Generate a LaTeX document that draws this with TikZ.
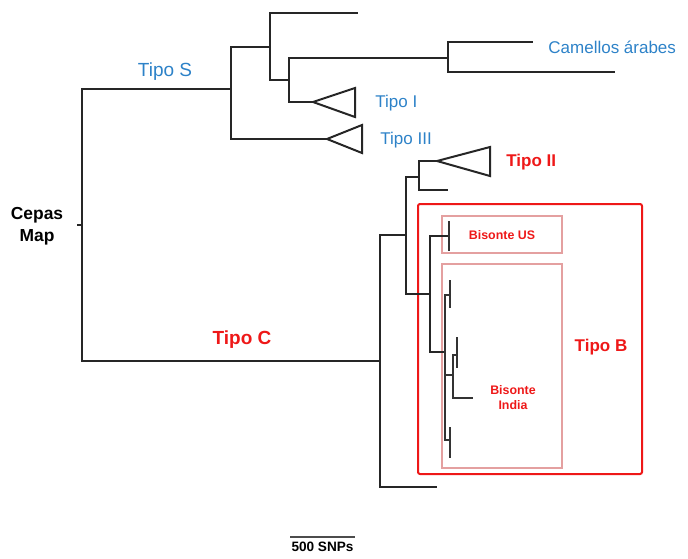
\documentclass[tikz,border=0pt]{standalone}
\usepackage{fontspec}
\setmainfont{Liberation Sans}
\usetikzlibrary{positioning,calc}
\definecolor{tipoblue}{RGB}{45,130,200}
\definecolor{tipored}{RGB}{238,24,24}
\definecolor{boxpink}{RGB}{228,160,160}

\begin{document}
\begin{tikzpicture}[
  x=0.5pt,y=-0.5pt,
  branch/.style={line width=1pt,black!85},
  twig/.style={line width=0.7pt,black!80},
  clade/.style={line width=1pt,black!85,line join=miter},
  bluelbl/.style={font=\fontsize{8.5}{10}\selectfont,text=tipoblue,inner sep=0pt},
  redlbl/.style={font=\bfseries\fontsize{8.5}{10}\selectfont,text=tipored,inner sep=0pt},
  sublbl/.style={font=\bfseries\fontsize{6.2}{7.5}\selectfont,text=tipored,align=center,inner sep=0pt},
  bigbox/.style={draw=tipored,line width=1pt,rounded corners=1pt,inner sep=0pt},
  subbox/.style={draw=boxpink,line width=0.6pt,inner sep=0pt},
]
\useasboundingbox (0,0) rectangle (688,558);

% red boxes behind the tree
\node[bigbox,minimum width=112pt,minimum height=135pt] (boxB) at (530,339) {};
\node[subbox,minimum width=60pt,minimum height=18.5pt] (boxUS) at (502,234.5) {};
\node[subbox,minimum width=60pt,minimum height=102pt] (boxIN) at (502,366) {};

% tree nodes
\coordinate (rtick) at (77,225);
\coordinate (root) at (82,225);
\coordinate (nS) at (231,89);
\coordinate (nA) at (270,47);
\coordinate (lA) at (358,13);
\coordinate (nA2) at (289,80);
\coordinate (nCam) at (448,58);
\coordinate (lCam1) at (533,42);
\coordinate (lCam2) at (615,72);
\coordinate (tI) at (313,102);
\coordinate (tIII) at (327,139);
\coordinate (nC) at (380,361);
\coordinate (n2) at (406,235);
\coordinate (lC) at (437,487);
\coordinate (n3) at (419,177);
\coordinate (tII) at (437,161);
\coordinate (l3) at (448,190);
\coordinate (nB) at (430,294);
\coordinate (nUS) at (449,236);
\coordinate (nIN) at (445,352);
\coordinate (in1) at (450,295);
\coordinate (in2) at (453,375);
\coordinate (in3) at (457,355);
\coordinate (lIn) at (473,398);
\coordinate (in4) at (450,440);

% branches
\draw[branch] (rtick) -- (root);
\draw[branch] (root) |- (nS);
\draw[branch] (root) |- (nC);
\draw[branch] (nS) |- (nA);
\draw[branch] (nS) |- (tIII);
\draw[branch] (nA) |- (lA);
\draw[branch] (nA) |- (nA2);
\draw[branch] (nA2) |- (nCam);
\draw[branch] (nA2) |- (tI);
\draw[branch] (nCam) |- (lCam1);
\draw[branch] (nCam) |- (lCam2);
\draw[branch] (nC) |- (n2);
\draw[branch] (nC) |- (lC);
\draw[branch] (n2) |- (n3);
\draw[branch] (n2) |- (nB);
\draw[branch] (n3) |- (tII);
\draw[branch] (n3) |- (l3);
\draw[branch] (nB) |- (nUS);
\draw[branch] (nB) |- (nIN);

% bison twigs
\draw[twig] (nUS) ++(0,-15) -- ++(0,30);
\draw[twig] (nIN) |- (in1);
\draw[twig] (nIN) |- (in2);
\draw[twig] (nIN) |- (in4);
\draw[twig] (in1) ++(0,-15) -- ++(0,28);
\draw[twig] (in2) |- (in3);
\draw[twig] (in2) |- (lIn);
\draw[twig] (in3) ++(0,-18) -- ++(0,31);
\draw[twig] (in4) ++(0,-13) -- ++(0,31);

% collapsed clades
\draw[clade] (tI) -- ++(42,-14) -- ++(0,29) -- cycle;
\draw[clade] (tIII) -- ++(35,-14) -- ++(0,28) -- cycle;
\draw[clade] (tII) -- ++(53,-14) -- ++(0,29) -- cycle;

% labels
\node[font=\bfseries\fontsize{8.7}{11}\selectfont,align=center,inner sep=0pt] (cepas) at (37,226) {Cepas\\Map};
\node[bluelbl,font=\fontsize{9.5}{11}\selectfont] (lblS) at (165,72) {Tipo S};
\node[bluelbl,anchor=west] (lblCam) at (548,47) {Camellos árabes};
\node[bluelbl,anchor=west] (lblI) at (375,103) {Tipo I};
\node[bluelbl,anchor=west] (lblIII) at (380,140) {Tipo III};
\node[redlbl,anchor=west] (lblII) at (506,162) {Tipo II};
\node[redlbl,font=\bfseries\fontsize{9.5}{11}\selectfont] (lblC) at (242,340) {Tipo C};
\node[redlbl] (lblB) at (601,347) {Tipo B};
\node[sublbl] (lblUS) at (502,235) {Bisonte US};
\node[sublbl] (lblIN) at (513,398) {Bisonte\\India};

% scale bar
\coordinate (sbL) at (290,537);
\coordinate (sbR) at (355,537);
\draw[line width=1.4pt,black!70] (sbL) -- (sbR);
\node[font=\bfseries\fontsize{6.8}{8}\selectfont,inner sep=0pt,below=2.5pt of $(sbL)!0.5!(sbR)$] (sblbl) {500 SNPs};
\end{tikzpicture}
\end{document}
